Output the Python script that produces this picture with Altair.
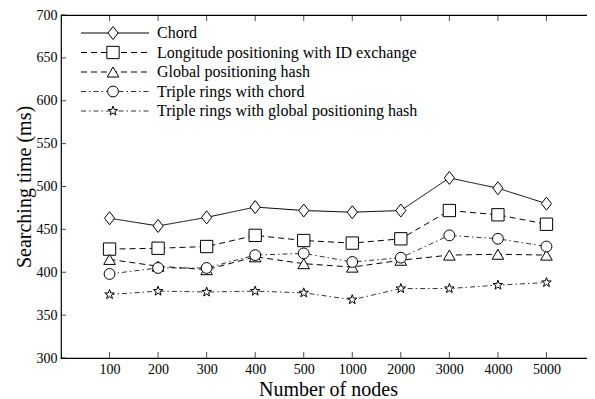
import altair as alt
import pandas as pd

nodes = ["100", "200", "300", "400", "500", "1000", "2000", "3000", "4000", "5000"]
series = [
    "Chord",
    "Longitude positioning with ID exchange",
    "Global positioning hash",
    "Triple rings with chord",
    "Triple rings with global positioning hash",
]
chord = [463, 454, 464, 476, 472, 470, 472, 510, 498, 480]
longitude = [427, 428, 430, 443, 437, 434, 439, 472, 467, 456]
global_hash = [415, 407, 403, 418, 410, 406, 414, 420, 421, 420]
triple_chord = [398, 405, 405, 420, 422, 412, 417, 443, 439, 430]
triple_global = [374, 378, 377, 378, 376, 368, 381, 381, 385, 388]
y_ticks = [300, 350, 400, 450, 500, 550, 600, 650, 700]

values = [chord, longitude, global_hash, triple_chord, triple_global]
rows = []
for s, vals in zip(series, values):
    for n, v in zip(nodes, vals):
        rows.append({"series": s, "nodes": n, "value": v})
df = pd.DataFrame(rows)
leg = pd.DataFrame({"series": series})
xt = pd.DataFrame({"nodes": nodes})
yt = pd.DataFrame({"value": y_ticks})

FONT = "Liberation Serif"
W, H = 534, 343

diamond = "M0,-1L0.78,0L0,1L-0.78,0Z"
star = ("M0,-1L0.235,-0.324L0.951,-0.309L0.380,0.124L0.588,0.809L0,0.4"
        "L-0.588,0.809L-0.380,0.124L-0.951,-0.309L-0.235,-0.324Z")
shapes = [diamond, "square", "triangle-up", "circle", star]
dashes = [[1, 0], [6, 4], [6, 4], [5, 3, 1.5, 3], [5, 3, 1.5, 3]]
colors = ["black", "black", "black", "#333333", "#333333"]
sizes = [169, 100, 169, 137, 165]

yscale = alt.Scale(domain=[300, 700], nice=False, zero=False)
xscale = alt.Scale(type="point", padding=1)
xenc = alt.X("nodes:N", sort=nodes, scale=xscale,
             axis=alt.Axis(title="Number of nodes", labelAngle=0, ticks=False,
                           domain=False, labelPadding=4, titlePadding=3,
                           labelFont=FONT, labelFontSize=14, labelColor="black",
                           titleFont=FONT, titleFontSize=20, titleFontWeight="normal",
                           titleColor="black"))
dash_enc = alt.StrokeDash("series:N", scale=alt.Scale(domain=series, range=dashes), legend=None)
shape_enc = alt.Shape("series:N", scale=alt.Scale(domain=series, range=shapes), legend=None)
size_enc = alt.Size("series:N", scale=alt.Scale(domain=series, range=sizes), legend=None)
color_enc = alt.Color("series:N", scale=alt.Scale(domain=series, range=colors), legend=None)

lines = alt.Chart(df).mark_line(strokeWidth=1).encode(
    x=xenc,
    y=alt.Y("value:Q", scale=yscale,
            axis=alt.Axis(title="Searching time (ms)", values=y_ticks, ticks=False,
                          domain=False, grid=False, labelPadding=4, titlePadding=2,
                          labelFont=FONT, labelFontSize=14, labelColor="black",
                          titleFont=FONT, titleFontSize=20, titleFontWeight="normal",
                          titleColor="black")),
    strokeDash=dash_enc,
    color=color_enc,
    detail="series:N",
)
points = alt.Chart(df).mark_point(filled=True, fill="white", stroke="black",
                                  strokeWidth=1, opacity=1).encode(
    x=alt.X("nodes:N", sort=nodes, scale=xscale),
    y=alt.Y("value:Q", scale=yscale, axis=None),
    shape=shape_enc,
    size=size_enc,
)

tick_bottom = alt.Chart(xt).mark_tick(orient="vertical", size=6, thickness=1,
                                      color="black", yOffset=-3).encode(
    x=alt.X("nodes:N", sort=nodes, scale=xscale),
    y=alt.Y(datum=300, scale=yscale, axis=None),
)
tick_top = alt.Chart(xt).mark_tick(orient="vertical", size=6, thickness=1,
                                   color="black", yOffset=3).encode(
    x=alt.X("nodes:N", sort=nodes, scale=xscale),
    y=alt.Y(datum=700, scale=yscale, axis=None),
)
tick_left = alt.Chart(yt).mark_tick(orient="horizontal", size=5, thickness=1,
                                    color="black").encode(
    x=alt.value(2.5),
    y=alt.Y("value:Q", scale=yscale, axis=None),
)
tick_right = alt.Chart(yt).mark_tick(orient="horizontal", size=5, thickness=1,
                                     color="black").encode(
    x=alt.value(W - 2.5),
    y=alt.Y("value:Q", scale=yscale, axis=None),
)

ley = alt.Y("series:N", sort=series,
            scale=alt.Scale(type="point", range=[18, 96], padding=0), axis=None)
leg_line = alt.Chart(leg).mark_rule(strokeWidth=1).encode(
    x=alt.value(20), x2=alt.value(88), y=ley, strokeDash=dash_enc, color=color_enc,
)
leg_pt = alt.Chart(leg).mark_point(filled=True, fill="white", stroke="black",
                                   strokeWidth=1, opacity=1).encode(
    x=alt.value(52), y=ley, shape=shape_enc, size=size_enc,
)
leg_txt = alt.Chart(leg).mark_text(align="left", baseline="middle", font=FONT,
                                   fontSize=16, color="black").encode(
    x=alt.value(96), y=ley, text="series:N",
)

chart = alt.layer(
    lines, points, tick_bottom, tick_top, tick_left, tick_right,
    leg_line, leg_pt, leg_txt,
).resolve_scale(y="independent").properties(
    width=W, height=H,
    autosize="none",
    padding={"left": 53, "top": 7, "right": -8, "bottom": 40},
    background="white",
).configure_view(stroke="black", strokeWidth=1.2)

chart.save("out.html", embed_options={"renderer": "svg", "actions": False})
